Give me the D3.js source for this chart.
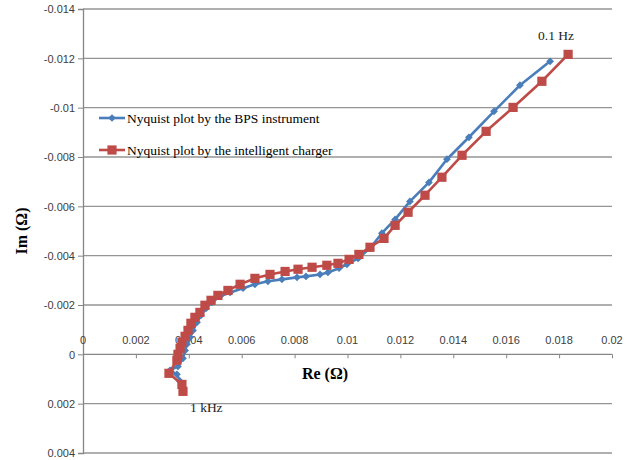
<!DOCTYPE html>
<html lang="en">
<head>
    <meta charset="UTF-8">
    <title>Nyquist plot</title>
    <script src="https://d3js.org/d3.v7.min.js"></script>
    <style>
        body { margin: 0; background: #fff; }
        .tick-label { font-family: "Liberation Sans", Arial, sans-serif; font-size: 11px; fill: #404040; }
        .axis-title { font-family: "Liberation Serif", "Times New Roman", serif; font-size: 16px; font-weight: bold; fill: #000; }
        .serif { font-family: "Liberation Serif", "Times New Roman", serif; font-size: 13.5px; fill: #222; }
    </style>
</head>
<body>
<div id="chart"></div>
<script>
// Re / Im values in ohm (Im negative = up), from 1 kHz down to 0.1 Hz
var bpsRe = [0.00367, 0.00355, 0.00329, 0.00359, 0.00378, 0.00386, 0.00393, 0.00405, 0.00416, 0.00431,
             0.00446, 0.00465, 0.00488, 0.00518, 0.00556, 0.00605, 0.0065, 0.00699, 0.00752, 0.00809,
             0.00843, 0.00896, 0.00926, 0.00968, 0.00998, 0.0104, 0.01085, 0.0113, 0.0118, 0.01236,
             0.01308, 0.01376, 0.01459, 0.01554, 0.01652, 0.01766];
var bpsIm = [0.00109, 0.00081, 0.00065, 0.00049, 0.00016, -0.00016, -0.00041, -0.00069, -0.00097, -0.0013,
             -0.00158, -0.00186, -0.00211, -0.00235, -0.00251, -0.00268, -0.00284, -0.00296, -0.00304, -0.00312,
             -0.00316, -0.00324, -0.00332, -0.00349, -0.00365, -0.00389, -0.0043, -0.00491, -0.00547, -0.0062,
             -0.00697, -0.00791, -0.0088, -0.00985, -0.01091, -0.01188];

var chargerRe = [0.00378, 0.00374, 0.00325, 0.00355, 0.00359, 0.00367, 0.00374, 0.00386, 0.00397, 0.00408,
                 0.00423, 0.00442, 0.00461, 0.00484, 0.0051, 0.00548, 0.00594, 0.0065, 0.00707, 0.00764,
                 0.00813, 0.00866, 0.00922, 0.00964, 0.01006, 0.01043, 0.01085, 0.01138, 0.0118, 0.01229,
                 0.01293, 0.01357, 0.01433, 0.01524, 0.01626, 0.01735, 0.01834];
var chargerIm = [0.0015, 0.00122, 0.00077, 0.00024, 0, -0.00024, -0.00049, -0.00073, -0.00097, -0.00126,
                 -0.0015, -0.0017, -0.00199, -0.00219, -0.00239, -0.00259, -0.00284, -0.00308, -0.00324, -0.00336,
                 -0.00345, -0.00353, -0.00361, -0.00369, -0.00385, -0.00405, -0.00434, -0.0047, -0.00523, -0.00576,
                 -0.00645, -0.00718, -0.00807, -0.00904, -0.01001, -0.01107, -0.01216];

var xTicks = [0, 0.002, 0.004, 0.006, 0.008, 0.01, 0.012, 0.014, 0.016, 0.018, 0.02];
var yTicks = [-0.014, -0.012, -0.01, -0.008, -0.006, -0.004, -0.002, 0, 0.002, 0.004];
var seriesNames = ["Nyquist plot by the BPS instrument", "Nyquist plot by the intelligent charger"];
var seriesColors = ["#4a7ebb", "#be4b48"];

var width = 634, height = 460;

var svg = d3.select("#chart").append("svg")
    .attr("width", width)
    .attr("height", height);

var x = d3.scaleLinear().domain([0, 0.02]).range([83, 612]);
var y = d3.scaleLinear().domain([-0.014, 0.004]).range([9, 453]);

function fmt(v) {
    return String(+v.toFixed(3));
}

// horizontal gridlines
svg.selectAll(".grid")
    .data(yTicks)
    .enter().append("line")
    .attr("x1", x(0))
    .attr("x2", x(0.02))
    .attr("y1", function(d) { return y(d); })
    .attr("y2", function(d) { return y(d); })
    .style("stroke", function(d) { return d === 0 ? "#868686" : "#959595"; })
    .style("stroke-width", 1.3);

// y axis
var yAxis = d3.axisLeft(y).tickValues(yTicks).tickSize(5).tickFormat(fmt);
var gy = svg.append("g").attr("transform", "translate(" + x(0) + ",0)").call(yAxis);
gy.select(".domain").style("stroke", "#868686").style("stroke-width", 1.3);
gy.selectAll(".tick line").style("stroke", "#868686");
gy.selectAll(".tick text").attr("class", "tick-label").attr("x", -8).attr("dy", "0.35em");

// x axis (sits on Im = 0, labels above)
var xAxis = d3.axisBottom(x).tickValues(xTicks).tickSize(4).tickFormat("");
var gx = svg.append("g").attr("transform", "translate(0," + y(0) + ")").call(xAxis);
gx.select(".domain").remove();
gx.selectAll(".tick line").style("stroke", "#868686");

svg.selectAll(".xlabel")
    .data(xTicks)
    .enter().append("text")
    .attr("class", "tick-label")
    .attr("x", function(d) { return x(d); })
    .attr("y", y(0) - 10)
    .attr("text-anchor", "middle")
    .text(fmt);

// axis titles
svg.append("text")
    .attr("class", "axis-title")
    .attr("x", 325)
    .attr("y", 379)
    .attr("text-anchor", "middle")
    .text("Re (\u03A9)");

svg.append("text")
    .attr("class", "axis-title")
    .attr("transform", "translate(27,231) rotate(-90)")
    .attr("text-anchor", "middle")
    .text("Im (\u03A9)");

// series (diamond = square turned 45 degrees, like Excel's marker)
var series = [
    { name: seriesNames[0], color: seriesColors[0], size: 30, rot: 45,
      points: bpsRe.map(function(v, i) { return [v, bpsIm[i]]; }) },
    { name: seriesNames[1], color: seriesColors[1], size: 85, rot: 0,
      points: chargerRe.map(function(v, i) { return [v, chargerIm[i]]; }) }
];

var line = d3.line()
    .x(function(d) { return x(d[0]); })
    .y(function(d) { return y(d[1]); });

series.forEach(function(s) {
    svg.append("path")
        .datum(s.points)
        .attr("d", line)
        .style("fill", "none")
        .style("stroke", s.color)
        .style("stroke-width", 2.6)
        .style("stroke-linejoin", "round");

    svg.selectAll(null)
        .data(s.points)
        .enter().append("path")
        .attr("d", d3.symbol().type(d3.symbolSquare).size(s.size))
        .attr("transform", function(d) {
            return "translate(" + x(d[0]) + "," + y(d[1]) + ") rotate(" + s.rot + ")";
        })
        .style("fill", s.color);
});

// annotations
svg.append("text").attr("class", "serif").attr("x", 190).attr("y", 412).text("1 kHz");
svg.append("text").attr("class", "serif").attr("x", 538).attr("y", 40).text("0.1 Hz");

// legend
var legend = svg.selectAll(".legend")
    .data(series)
    .enter().append("g")
    .attr("transform", function(d, i) { return "translate(99," + (118 + i * 32) + ")"; });

legend.append("line")
    .attr("x1", 0).attr("x2", 26)
    .style("stroke", function(d) { return d.color; })
    .style("stroke-width", 2.6);

legend.append("path")
    .attr("transform", function(d) { return "translate(13,0) rotate(" + d.rot + ")"; })
    .attr("d", function(d) { return d3.symbol().type(d3.symbolSquare).size(d.size)(); })
    .style("fill", function(d) { return d.color; });

legend.append("text")
    .attr("class", "serif")
    .attr("x", 28)
    .attr("dy", "0.35em")
    .style("fill", "#000")
    .text(function(d) { return d.name; });
</script>
</body>
</html>
